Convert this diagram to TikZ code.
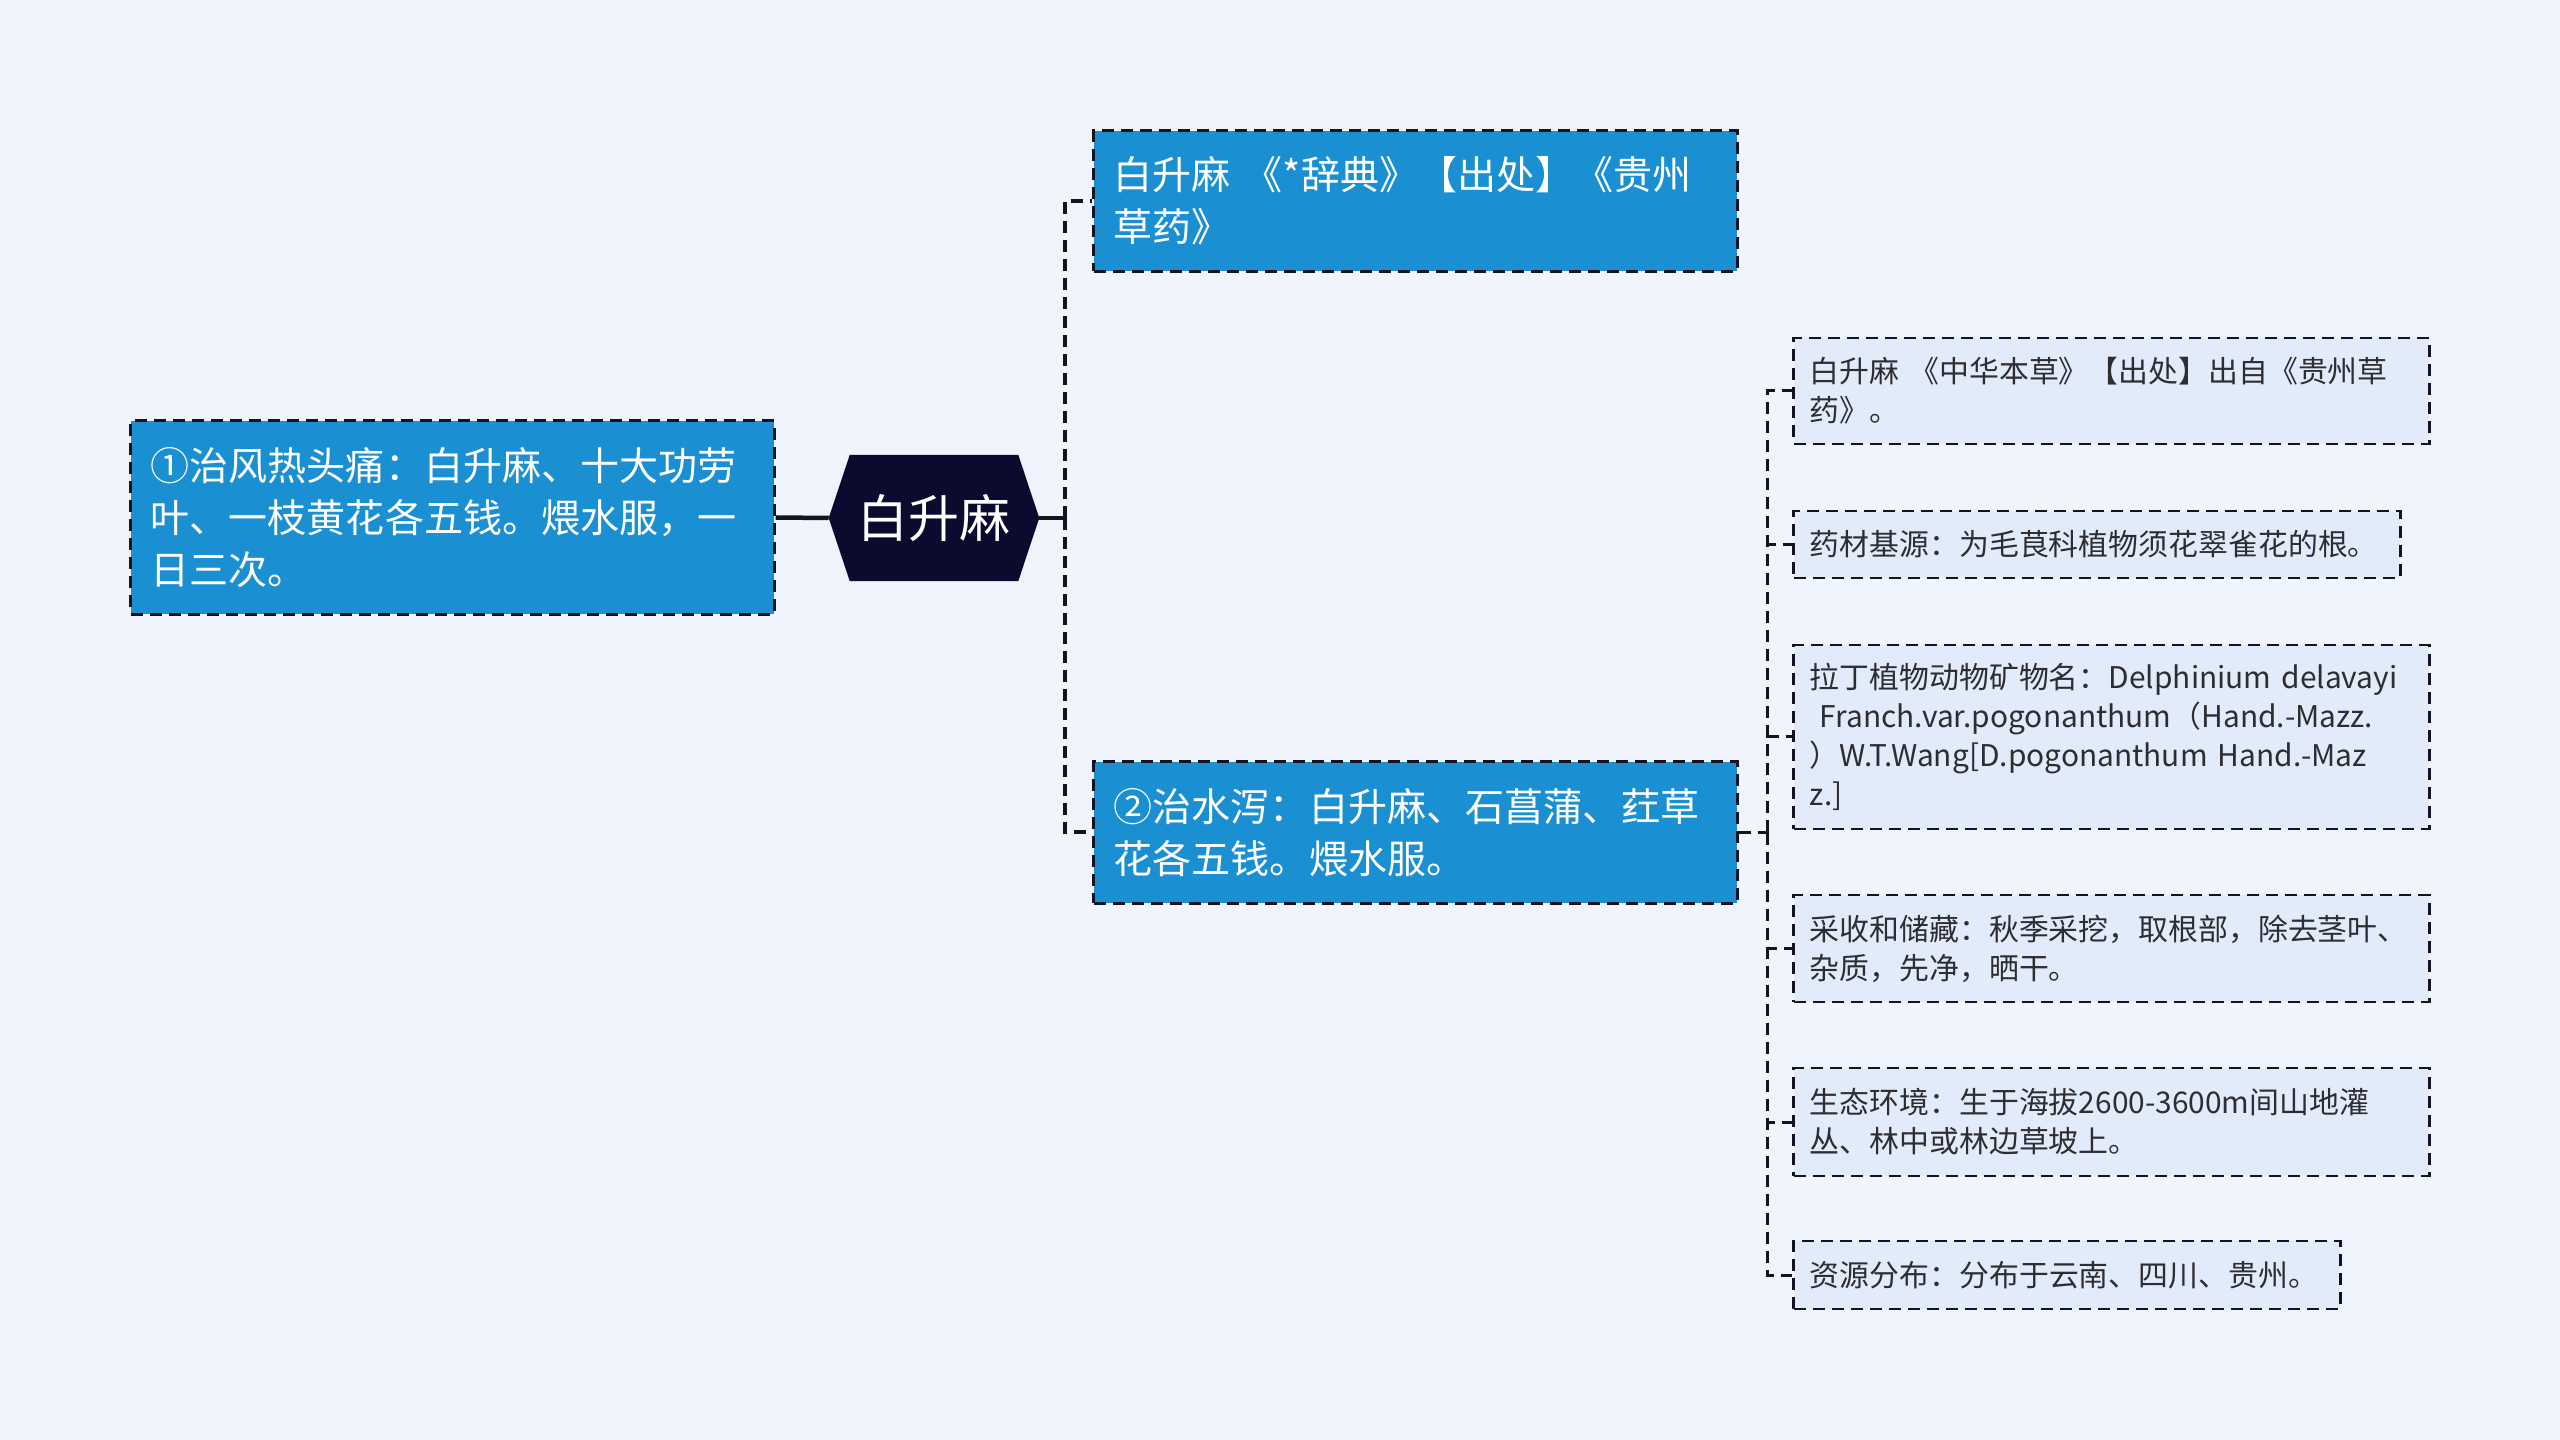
\documentclass[tikz,border=0pt]{standalone}
\usepackage{fontspec}
\setmainfont{Noto Sans CJK SC}
\usetikzlibrary{calc}
\definecolor{bgc}{RGB}{239,244,253}
\definecolor{bluebox}{RGB}{26,144,210}
\definecolor{navy}{RGB}{12,10,46}
\definecolor{lightbox}{RGB}{226,235,250}
\definecolor{linec}{RGB}{20,20,32}
\definecolor{txt}{RGB}{45,45,50}
\pgfdeclarelayer{bglayer}
\pgfsetlayers{bglayer,main}
\tikzset{
  dashpat/.style={dash pattern=on 0.12cm off 0.07cm},
  bluenode/.style={draw=linec, dashpat, line width=0.03cm, fill=bluebox, text=white,
    font=\fontsize{11.1}{14.8}\selectfont, align=left, inner xsep=0.2cm, inner ysep=0cm},
  lightnode/.style={draw=linec, dashpat, line width=0.028cm, fill=lightbox, text=txt,
    font=\fontsize{8.5}{11.1}\selectfont, align=left, inner xsep=0.16cm, inner ysep=0cm},
  hexnode/.style={text=white, font=\fontsize{14.5}{17}\selectfont, minimum width=2.09cm,
    minimum height=1.25cm, inner sep=0cm},
  solidconn/.style={draw=linec, line width=0.045cm},
  dashconn/.style={draw=linec, line width=0.04cm, dashpat},
  dashconnthin/.style={draw=linec, line width=0.03cm, dashpat},
}
\begin{document}
\begin{tikzpicture}[x=0.01cm,y=-0.01cm]
\begin{pgfonlayer}{bglayer}
\fill[bgc] (0,0) rectangle (2560,1440);
\end{pgfonlayer}
\useasboundingbox (0,0) rectangle (2560,1440);

\node[bluenode, text width=6.03cm, minimum height=1.93cm] (L) at (452.5,517.5)
  {①治风热头痛：白升麻、十大功劳\\叶、一枝黄花各五钱。煨水服，一\\日三次。};

\node[hexnode] (c) at (934,518) {白升麻};
\begin{pgfonlayer}{bglayer}
\fill[navy] (c.west) -- ($(c.north west)+(21,0)$) -- ($(c.north east)+(-21,0)$) -- (c.east)
  -- ($(c.south east)+(-21,0)$) -- ($(c.south west)+(21,0)$) -- cycle;
\end{pgfonlayer}

\node[bluenode, text width=6.03cm, minimum height=1.40cm] (T) at (1415.5,201)
  {白升麻 《*辞典》【出处】《贵州\\草药》};
\node[bluenode, text width=6.03cm, minimum height=1.41cm] (B) at (1415.5,832.5)
  {②治水泻：白升麻、石菖蒲、荭草\\花各五钱。煨水服。};

\node[lightnode, text width=6.03cm, minimum height=1.06cm] (r1) at (2111.5,391)
  {白升麻 《中华本草》【出处】出自《贵州草\\药》。};
\node[lightnode, text width=5.74cm, minimum height=0.67cm] (r2) at (2097,544.5)
  {药材基源：为毛茛科植物须花翠雀花的根。};
\node[lightnode, text width=6.03cm, minimum height=1.84cm] (r3) at (2111.5,737)
  {拉丁植物动物矿物名：Delphinium delavayi\\\ Franch.var.pogonanthum（Hand.-Mazz.\\）W.T.Wang[D.pogonanthum Hand.-Maz\\z.]};
\node[lightnode, text width=6.03cm, minimum height=1.07cm] (r4) at (2111.5,948.5)
  {采收和储藏：秋季采挖，取根部，除去茎叶、\\杂质，先净，晒干。};
\node[lightnode, text width=6.03cm, minimum height=1.08cm] (r5) at (2111.5,1122)
  {生态环境：生于海拔2600-3600m间山地灌\\丛、林中或林边草坡上。};
\node[lightnode, text width=5.14cm, minimum height=0.68cm] (r6) at (2067,1275)
  {资源分布：分布于云南、四川、贵州。};

\coordinate (j1) at (1065,518);
\coordinate (j2) at (1767,832.5);
\draw[solidconn] (L.east) -- (c.west);
\draw[solidconn] (c.east) -- (j1);
\draw[dashconn] (j1) |- (T.west);
\draw[dashconn] (j1) |- (B.west);
\draw[dashconnthin] (B.east) -- (j2);
\foreach \r in {r1,r2,r3,r4,r5,r6}{
  \draw[dashconnthin] (j2) |- (\r.west);
}
\end{tikzpicture}
\end{document}
